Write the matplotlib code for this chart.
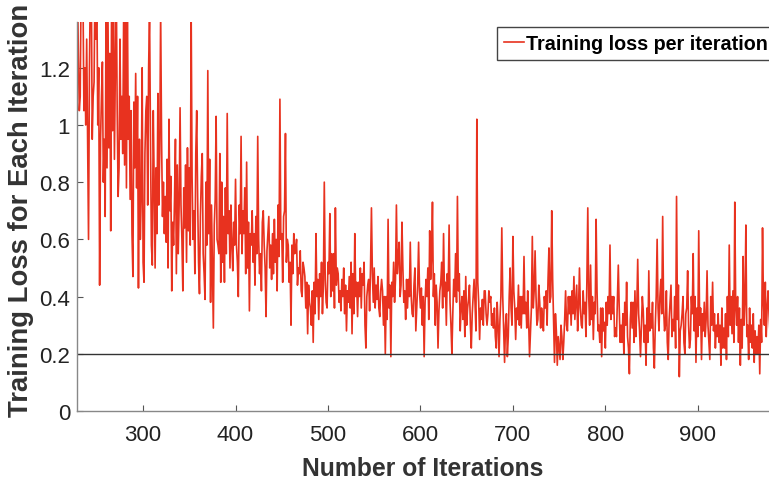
import matplotlib
matplotlib.use('Agg')
import matplotlib.pyplot as plt
import numpy as np

plt.rcParams['font.family'] = ['Liberation Sans', 'DejaVu Sans']

# loss: one reading every 3 iterations starting at 229,
# plus the two readings in between (iteration +1 and +2)
first_iter = 229
step = 3
loss_229_310 = [1.5, 1.1, 1.45, 1.0, 0.60, 1.5, 1.15, 1.45, 0.44, 1.22, 0.68, 1.4, 0.63, 1.5,
                1.5, 0.85, 1.1, 0.86, 1.45, 0.74, 0.47, 1.18, 0.43, 0.75, 0.45, 1.1, 1.4, 0.51]
loss_313_394 = [0.50, 1.11, 1.40, 0.80, 0.59, 1.02, 0.42, 0.74, 0.86, 1.06, 0.42, 0.86, 0.63, 1.40,
                0.70, 1.05, 0.41, 0.90, 0.39, 1.19, 0.38, 0.29, 1.03, 0.55, 0.80, 0.45, 1.04, 0.50]
loss_397_478 = [0.49, 0.81, 0.40, 0.96, 0.62, 0.87, 0.35, 0.70, 0.44, 0.96, 0.55, 0.70, 0.33, 0.68,
                0.46, 0.67, 0.42, 1.09, 0.45, 0.97, 0.58, 0.30, 0.62, 0.60, 0.48, 0.40, 0.47, 0.27]
loss_481_640 = [0.36, 0.24, 0.62, 0.32, 0.52, 0.80, 0.36, 0.69, 0.42, 0.71,
                0.48, 0.35, 0.50, 0.28, 0.47, 0.27, 0.62, 0.33, 0.50, 0.44,
                0.22, 0.46, 0.71, 0.50, 0.39, 0.33, 0.42, 0.20, 0.67, 0.19,
                0.52, 0.72, 0.59, 0.66, 0.42, 0.36, 0.59, 0.33, 0.28, 0.59,
                0.43, 0.19, 0.40, 0.63, 0.73, 0.30, 0.22, 0.45, 0.62, 0.30,
                0.65, 0.20, 0.40, 0.75]
loss_643_805 = [0.28, 0.32, 0.47, 0.39, 0.22, 0.46, 1.02, 0.25, 0.39, 0.42,
                0.34, 0.40, 0.29, 0.22, 0.19, 0.64, 0.17, 0.19, 0.50, 0.61,
                0.25, 0.44, 0.29, 0.54, 0.29, 0.19, 0.61, 0.56, 0.32, 0.29,
                0.28, 0.42, 0.57, 0.70, 0.17, 0.16, 0.18, 0.18, 0.42, 0.40,
                0.30, 0.47, 0.44, 0.50, 0.29, 0.38, 0.71, 0.51, 0.25, 0.67,
                0.30, 0.19, 0.31, 0.30, 0.58]
loss_808_976 = [0.34, 0.29, 0.51, 0.30, 0.20, 0.45, 0.13, 0.29, 0.42, 0.53,
                0.19, 0.35, 0.16, 0.49, 0.29, 0.15, 0.60, 0.40, 0.68, 0.30,
                0.18, 0.44, 0.28, 0.75, 0.12, 0.34, 0.20, 0.49, 0.25, 0.55,
                0.17, 0.63, 0.18, 0.38, 0.49, 0.18, 0.45, 0.22, 0.34, 0.16,
                0.29, 0.18, 0.58, 0.27, 0.73, 0.40, 0.16, 0.54, 0.65, 0.18,
                0.30, 0.17, 0.26, 0.13, 0.64, 0.45, 0.42]

loss_plus1 = [
    # 230-311
    1.25, 1.5, 1.05, 1.3, 1.2, 0.95, 1.5, 1.0, 0.95, 0.80, 1.5, 0.92, 1.5, 0.88,
    1.05, 1.3, 0.9, 1.5, 0.95, 1.05, 1.08, 0.78, 0.95, 1.2, 0.9, 0.72, 0.95, 1.05,
    # 314-395
    0.85, 0.72, 0.95, 0.62, 0.88, 0.70, 0.66, 0.95, 0.55, 0.72, 0.78, 0.52, 0.85, 0.82,
    0.48, 0.75, 0.68, 0.55, 0.80, 0.62, 0.72, 0.65, 0.60, 0.90, 0.52, 0.78, 0.62, 0.72,
    # 398-479
    0.66, 0.58, 0.72, 0.55, 0.78, 0.50, 0.62, 0.52, 0.68, 0.60, 0.42, 0.58, 0.56, 0.50,
    0.62, 0.52, 0.72, 0.60, 0.68, 0.52, 0.45, 0.58, 0.55, 0.44, 0.56, 0.52, 0.36, 0.44,
    # 482-641
    0.30, 0.45, 0.40, 0.48, 0.34, 0.46, 0.52, 0.40, 0.55, 0.44,
    0.38, 0.46, 0.34, 0.42, 0.36, 0.48, 0.40, 0.45, 0.36, 0.52,
    0.40, 0.35, 0.48, 0.36, 0.47, 0.42, 0.30, 0.40, 0.36, 0.45,
    0.38, 0.48, 0.40, 0.50, 0.32, 0.46, 0.40, 0.44, 0.36, 0.42,
    0.30, 0.38, 0.50, 0.46, 0.40, 0.44, 0.35, 0.52, 0.40, 0.48,
    0.38, 0.34, 0.55, 0.42,
    # 644-806
    0.36, 0.42, 0.30, 0.44, 0.34, 0.38, 0.45, 0.36, 0.30, 0.34,
    0.42, 0.30, 0.36, 0.38, 0.32, 0.40, 0.30, 0.26, 0.36, 0.42,
    0.36, 0.30, 0.40, 0.34, 0.42, 0.28, 0.36, 0.40, 0.44, 0.36,
    0.40, 0.30, 0.38, 0.46, 0.34, 0.26, 0.30, 0.24, 0.30, 0.34,
    0.42, 0.32, 0.28, 0.36, 0.42, 0.26, 0.40, 0.32, 0.38, 0.42,
    0.24, 0.36, 0.22, 0.40, 0.32,
    # 809-977
    0.40, 0.26, 0.36, 0.24, 0.38, 0.26, 0.32, 0.38, 0.26, 0.34,
    0.30, 0.24, 0.36, 0.28, 0.38, 0.30, 0.36, 0.46, 0.36, 0.42,
    0.32, 0.26, 0.40, 0.32, 0.28, 0.40, 0.34, 0.30, 0.40, 0.28,
    0.36, 0.30, 0.34, 0.26, 0.30, 0.40, 0.28, 0.30, 0.24, 0.36,
    0.22, 0.40, 0.30, 0.42, 0.36, 0.24, 0.32, 0.30, 0.26, 0.36,
    0.22, 0.28, 0.20, 0.32, 0.38, 0.26, 0.34,
]
loss_plus2 = [
    # 231-312
    1.05, 1.4, 1.2, 0.95, 1.5, 1.1, 1.3, 1.2, 1.1, 0.95, 0.85, 1.25, 0.98, 1.2,
    0.75, 0.95, 1.4, 0.78, 1.1, 0.62, 0.85, 1.1, 0.6, 0.52, 1.05, 1.2, 0.58, 0.8,
    # 315-396
    0.62, 0.90, 0.68, 0.75, 0.50, 0.82, 0.58, 0.48, 0.72, 0.60, 0.64, 0.92, 0.58, 0.60,
    0.90, 0.52, 0.82, 0.48, 0.58, 0.88, 0.50, 0.74, 0.58, 0.45, 0.68, 0.55, 0.70, 0.58,
    # 399-480
    0.58, 0.52, 0.62, 0.70, 0.48, 0.66, 0.58, 0.62, 0.55, 0.48, 0.66, 0.50, 0.62, 0.58,
    0.48, 0.60, 0.54, 0.62, 0.70, 0.60, 0.52, 0.48, 0.56, 0.50, 0.42, 0.50, 0.45, 0.38,
    # 483-642
    0.42, 0.34, 0.46, 0.40, 0.44, 0.38, 0.48, 0.55, 0.36, 0.50,
    0.42, 0.40, 0.44, 0.38, 0.52, 0.34, 0.45, 0.40, 0.48, 0.30,
    0.44, 0.50, 0.38, 0.44, 0.36, 0.46, 0.40, 0.32, 0.44, 0.40,
    0.46, 0.54, 0.44, 0.38, 0.46, 0.40, 0.34, 0.50, 0.44, 0.36,
    0.40, 0.46, 0.32, 0.54, 0.48, 0.38, 0.42, 0.36, 0.45, 0.42,
    0.30, 0.46, 0.38, 0.48,
    # 645-807
    0.40, 0.26, 0.36, 0.30, 0.40, 0.28, 0.38, 0.32, 0.42, 0.30,
    0.38, 0.34, 0.26, 0.30, 0.40, 0.28, 0.34, 0.40, 0.30, 0.36,
    0.32, 0.40, 0.34, 0.38, 0.32, 0.36, 0.42, 0.30, 0.38, 0.33,
    0.36, 0.46, 0.40, 0.32, 0.28, 0.22, 0.26, 0.32, 0.28, 0.40,
    0.34, 0.38, 0.36, 0.30, 0.34, 0.45, 0.30, 0.40, 0.34, 0.28,
    0.36, 0.28, 0.38, 0.34, 0.40,
    # 810-978
    0.26, 0.38, 0.24, 0.34, 0.30, 0.22, 0.38, 0.24, 0.36, 0.28,
    0.40, 0.30, 0.24, 0.34, 0.22, 0.40, 0.28, 0.34, 0.28, 0.24,
    0.38, 0.32, 0.22, 0.44, 0.30, 0.24, 0.36, 0.22, 0.34, 0.40,
    0.26, 0.36, 0.28, 0.32, 0.24, 0.30, 0.34, 0.26, 0.30, 0.22,
    0.34, 0.26, 0.40, 0.24, 0.30, 0.36, 0.22, 0.38, 0.30, 0.24,
    0.34, 0.20, 0.30, 0.24, 0.30, 0.36, 0.28,
]
threshold = 0.2

x_ticks = [300, 400, 500, 600, 700, 800, 900]
y_ticks = [0, 0.2, 0.4, 0.6, 0.8, 1.0, 1.2]
y_tick_labels = ['0', '0.2', '0.4', '0.6', '0.8', '1', '1.2']

loss_main = loss_229_310 + loss_313_394 + loss_397_478 + loss_481_640 + loss_643_805 + loss_808_976
loss = np.column_stack([loss_main, loss_plus1, loss_plus2]).ravel()
iters = first_iter + np.arange(len(loss))

fig = plt.figure(figsize=(7.69, 4.81), dpi=100)
ax = fig.add_axes([0.1001, 0.1435, 0.8999, 0.8087])

ax.plot(iters, loss, color='#e8321f', lw=1.2, label='Training loss per iteration')
ax.axhline(threshold, color='#333333', lw=1.0)

ax.set_xlim(228.5, 977)
ax.set_ylim(0, 1.36)
ax.set_xticks(x_ticks)
ax.set_yticks(y_ticks)
ax.set_yticklabels(y_tick_labels)
ax.tick_params(direction='in', length=4, width=0.8, color='#555555',
               labelsize=16, labelcolor='#222222')
ax.tick_params(axis='x', pad=9.5)
ax.tick_params(axis='y', pad=5)

for s in ['top', 'right']:
    ax.spines[s].set_visible(False)
for s in ['left', 'bottom']:
    ax.spines[s].set_color('#888888')
    ax.spines[s].set_linewidth(1.0)

ax.set_xlabel('Number of Iterations', fontsize=17.8, fontweight='bold', color='#333333', labelpad=8)
ax.set_ylabel('Training Loss for Each Iteration', fontsize=19.8, fontweight='bold', color='#333333')
ax.yaxis.set_label_coords(-0.062, 0.517)

leg = fig.legend(loc='upper left', bbox_to_anchor=(497 / 769, 1 - 28 / 481),
                 prop={'weight': 'bold', 'size': 14.2}, handlelength=1.0, handletextpad=0.1,
                 borderpad=0.35, borderaxespad=0, fancybox=False, framealpha=1)
leg.get_frame().set_edgecolor('#444444')
leg.get_frame().set_linewidth(1.0)

plt.savefig('out.png', dpi=100)
plt.close()
